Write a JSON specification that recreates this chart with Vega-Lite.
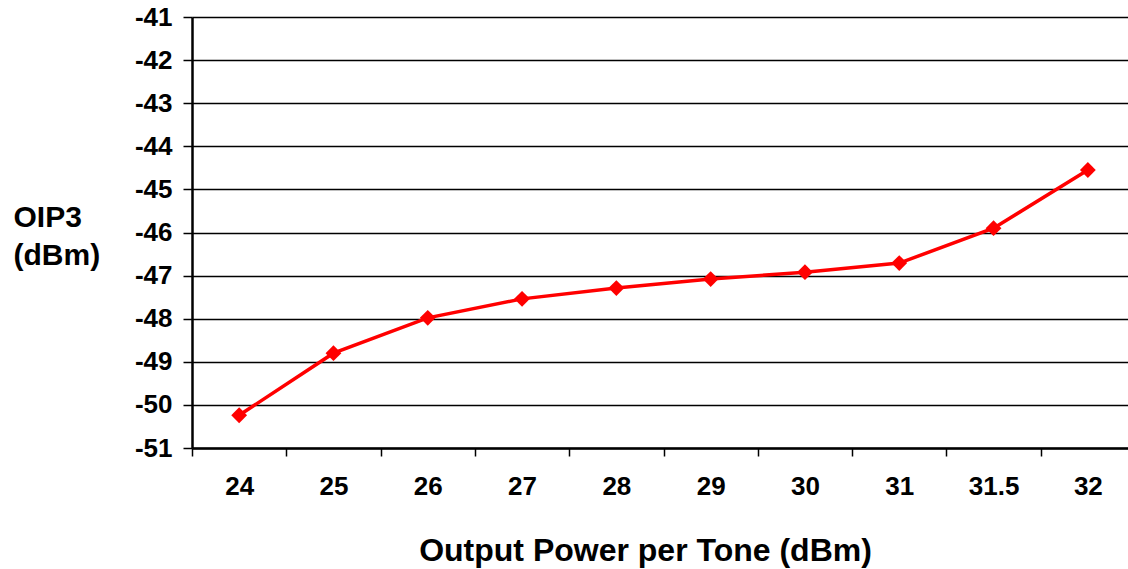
{
  "$schema": "https://vega.github.io/schema/vega-lite/v6.json",
  "autosize": "none",
  "width": 936,
  "height": 431,
  "padding": {"left": 192, "top": 17, "right": 0, "bottom": 121},
  "background": "white",
  "config": {
    "view": {"stroke": null},
    "font": "Liberation Sans"
  },
  "data": {
    "values": [
      {"power": "24", "oip3": -50.24},
      {"power": "25", "oip3": -48.8},
      {"power": "26", "oip3": -47.98},
      {"power": "27", "oip3": -47.54},
      {"power": "28", "oip3": -47.29},
      {"power": "29", "oip3": -47.08},
      {"power": "30", "oip3": -46.92},
      {"power": "31", "oip3": -46.71},
      {"power": "31.5", "oip3": -45.9},
      {"power": "32", "oip3": -44.55}
    ]
  },
  "mark": {
    "type": "line",
    "color": "#FF0000",
    "strokeWidth": 3.5,
    "point": {"shape": "diamond", "size": 250, "filled": true, "color": "#FF0000", "opacity": 1}
  },
  "encoding": {
    "x": {
      "field": "power",
      "type": "ordinal",
      "sort": null,
      "scale": {"type": "band", "range": [0, 943], "paddingInner": 0, "paddingOuter": 0},
      "axis": {
        "title": "Output Power per Tone (dBm)",
        "titleFont": "Liberation Sans",
        "titleFontSize": 32,
        "titleFontWeight": "bold",
        "titleColor": "black",
        "titleX": 453,
        "titleY": 102,
        "titleBaseline": "middle",
        "titleAnchor": null,
        "titleAlign": "center",
        "labelAngle": 0,
        "labelFont": "Liberation Sans",
        "labelFontSize": 26,
        "labelFontWeight": "bold",
        "labelColor": "black",
        "labelPadding": 30,
        "labelBaseline": "middle",
        "tickBand": "extent",
        "ticks": true,
        "tickSize": 8,
        "tickColor": "black",
        "tickWidth": 1.5,
        "domainColor": "black",
        "domainWidth": 2.5,
        "grid": false
      }
    },
    "y": {
      "field": "oip3",
      "type": "quantitative",
      "scale": {"domain": [-51, -41], "nice": false, "zero": false},
      "axis": {
        "values": [-51, -50, -49, -48, -47, -46, -45, -44, -43, -42, -41],
        "labelExpr": "replace(datum.label, '\u2212', '-')",
        "title": ["OIP3", "(dBm)"],
        "titleAngle": 0,
        "titleFont": "Liberation Sans",
        "titleFontSize": 30,
        "titleFontWeight": "bold",
        "titleColor": "black",
        "titleX": -179,
        "titleY": 200,
        "titleAlign": "left",
        "titleBaseline": "middle",
        "titleLineHeight": 38,
        "labelFont": "Liberation Sans",
        "labelFontSize": 26,
        "labelFontWeight": "bold",
        "labelColor": "black",
        "labelPadding": 11,
        "tickSize": 9,
        "tickColor": "black",
        "tickWidth": 1.5,
        "domainColor": "black",
        "domainWidth": 2.5,
        "grid": true,
        "gridColor": "black",
        "gridWidth": 1.3,
        "gridOpacity": 1
      }
    }
  }
}
